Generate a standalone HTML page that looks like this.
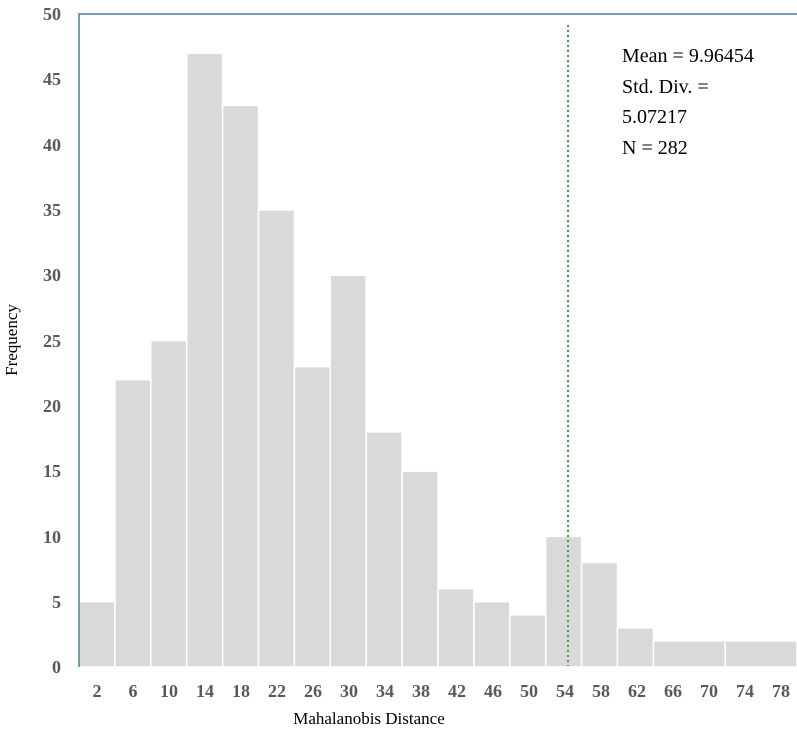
<!DOCTYPE html>
<html><head><style>body{margin:0;background:#fff;overflow:hidden}</style></head><body>
<svg width="797" height="730" xmlns="http://www.w3.org/2000/svg" font-family="Liberation Serif, serif" style="display:block">
<g fill="#d9d9d9" stroke="#fff" stroke-width="1.5">
<rect x="79" y="601.7" width="35.9" height="65.3"/>
<rect x="114.9" y="379.7" width="35.9" height="287.3"/>
<rect x="150.8" y="340.5" width="35.9" height="326.5"/>
<rect x="186.7" y="53.2" width="35.9" height="613.8"/>
<rect x="222.6" y="105.4" width="35.9" height="561.6"/>
<rect x="258.5" y="209.9" width="35.9" height="457.1"/>
<rect x="294.4" y="366.6" width="35.9" height="300.4"/>
<rect x="330.3" y="275.2" width="35.9" height="391.8"/>
<rect x="366.2" y="431.9" width="35.9" height="235.1"/>
<rect x="402.1" y="471.1" width="35.9" height="195.9"/>
<rect x="438" y="588.6" width="35.9" height="78.4"/>
<rect x="473.9" y="601.7" width="35.9" height="65.3"/>
<rect x="509.8" y="614.8" width="35.9" height="52.2"/>
<rect x="545.7" y="536.4" width="35.9" height="130.6"/>
<rect x="581.6" y="562.5" width="35.9" height="104.5"/>
<rect x="617.5" y="627.8" width="35.9" height="39.2"/>
<rect x="653.4" y="640.9" width="71.8" height="26.1"/>
<rect x="725.2" y="640.9" width="71.8" height="26.1"/>
</g>
<rect x="-10" y="667" width="900" height="2" fill="#fff"/>
<polyline points="79,667 79,14 797,14" fill="none" stroke="#4a8094" stroke-width="1.5"/>
<line x1="568" y1="25" x2="568" y2="666" stroke="#3aa03a" stroke-width="2" stroke-dasharray="2,3"/>
<g font-size="18" font-weight="bold" fill="#595959" text-anchor="end">
<text x="61" y="20">50</text><text x="61" y="85">45</text><text x="61" y="151">40</text><text x="61" y="216">35</text><text x="61" y="281">30</text><text x="61" y="347">25</text><text x="61" y="412">20</text><text x="61" y="477">15</text><text x="61" y="543">10</text><text x="61" y="608">5</text><text x="61" y="673">0</text>
</g>
<g font-size="18" font-weight="bold" fill="#595959" text-anchor="middle">
<text x="97" y="697">2</text><text x="133" y="697">6</text><text x="169" y="697">10</text><text x="205" y="697">14</text><text x="241" y="697">18</text><text x="277" y="697">22</text><text x="313" y="697">26</text><text x="349" y="697">30</text><text x="385" y="697">34</text><text x="421" y="697">38</text><text x="457" y="697">42</text><text x="493" y="697">46</text><text x="529" y="697">50</text><text x="565" y="697">54</text><text x="601" y="697">58</text><text x="637" y="697">62</text><text x="673" y="697">66</text><text x="709" y="697">70</text><text x="745" y="697">74</text><text x="781" y="697">78</text>
</g>
<text x="369" y="724" font-size="17" text-anchor="middle" fill="#000">Mahalanobis Distance</text>
<text transform="translate(17,340) rotate(-90)" font-size="17" text-anchor="middle" fill="#000">Frequency</text>
<g font-size="20" fill="#000">
<text x="622" y="62">Mean = 9.96454</text>
<text x="622" y="93">Std. Div. =</text>
<text x="622" y="123">5.07217</text>
<text x="622" y="154">N = 282</text>
</g>
</svg>
</body></html>
